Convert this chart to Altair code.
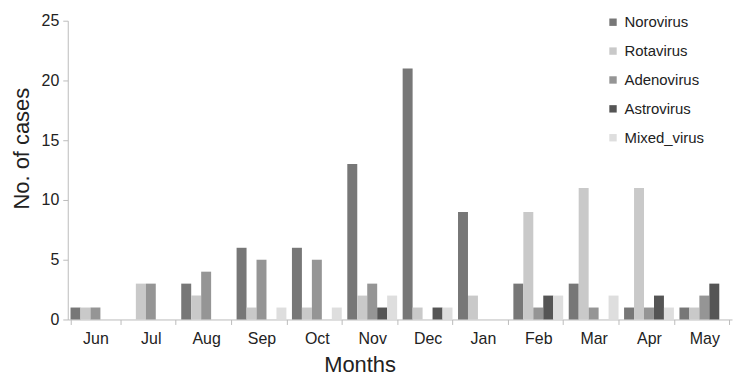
import altair as alt
import pandas as pd

months = ["Jun", "Jul", "Aug", "Sep", "Oct", "Nov", "Dec", "Jan", "Feb", "Mar", "Apr", "May"]
viruses = ["Norovirus", "Rotavirus", "Adenovirus", "Astrovirus", "Mixed_virus"]
norovirus = [1, 0, 3, 6, 6, 13, 21, 9, 3, 3, 1, 1]
rotavirus = [1, 3, 2, 1, 1, 2, 1, 2, 9, 11, 11, 1]
adenovirus = [1, 3, 4, 5, 5, 3, 0, 0, 1, 1, 1, 2]
astrovirus = [0, 0, 0, 0, 0, 1, 1, 0, 2, 0, 2, 3]
mixed_virus = [0, 0, 0, 1, 1, 2, 1, 0, 2, 2, 1, 0]
colors = ["#777777", "#c9c9c9", "#959595", "#555555", "#dedede"]

series = [norovirus, rotavirus, adenovirus, astrovirus, mixed_virus]
rows = []
for v, vals in zip(viruses, series):
    for m, c in zip(months, vals):
        rows.append({"Month": m, "Virus": v, "Cases": c})
df = pd.DataFrame(rows)

font = "Liberation Sans"

chart = alt.Chart(df).mark_bar().encode(
    x=alt.X("Month:N", sort=months, title="Months",
            scale=alt.Scale(paddingInner=0.1, paddingOuter=0.05),
            axis=alt.Axis(labelAngle=0, tickBand="extent", labelFontSize=16,
                          titleFontSize=22, labelColor="#222222", titleColor="#222222",
                          domainColor="#bbbbbb", tickColor="#bbbbbb", tickSize=5,
                          labelPadding=6, titlePadding=8, labelFont=font, titleFont=font,
                          titleFontWeight="normal", titleX=293)),
    xOffset=alt.XOffset("Virus:N", sort=viruses),
    y=alt.Y("Cases:Q", title="No. of cases",
            scale=alt.Scale(domain=[0, 25]),
            axis=alt.Axis(values=[0, 5, 10, 15, 20, 25], grid=False, labelFontSize=16,
                          titleFontSize=22, labelColor="#222222", titleColor="#222222",
                          domainColor="#bbbbbb", tickColor="#bbbbbb", tickSize=5,
                          labelPadding=4, titlePadding=8, labelFont=font, titleFont=font,
                          titleFontWeight="normal", titleY=128)),
    color=alt.Color("Virus:N", sort=viruses,
                    scale=alt.Scale(domain=viruses, range=colors),
                    legend=alt.Legend(title=None, orient="none", legendX=540, legendY=-6,
                                      symbolType="square", symbolSize=55,
                                      labelFontSize=15, labelFont=font, labelColor="#222222",
                                      rowPadding=13, symbolStrokeWidth=0)),
).properties(
    width=667, height=300,
    autosize=alt.AutoSizeParams(type="none"),
    padding={"left": 60, "top": 12, "right": 5, "bottom": 60},
).configure_view(stroke=None)

chart.save("out.html", embed_options={"renderer": "svg", "actions": False})
